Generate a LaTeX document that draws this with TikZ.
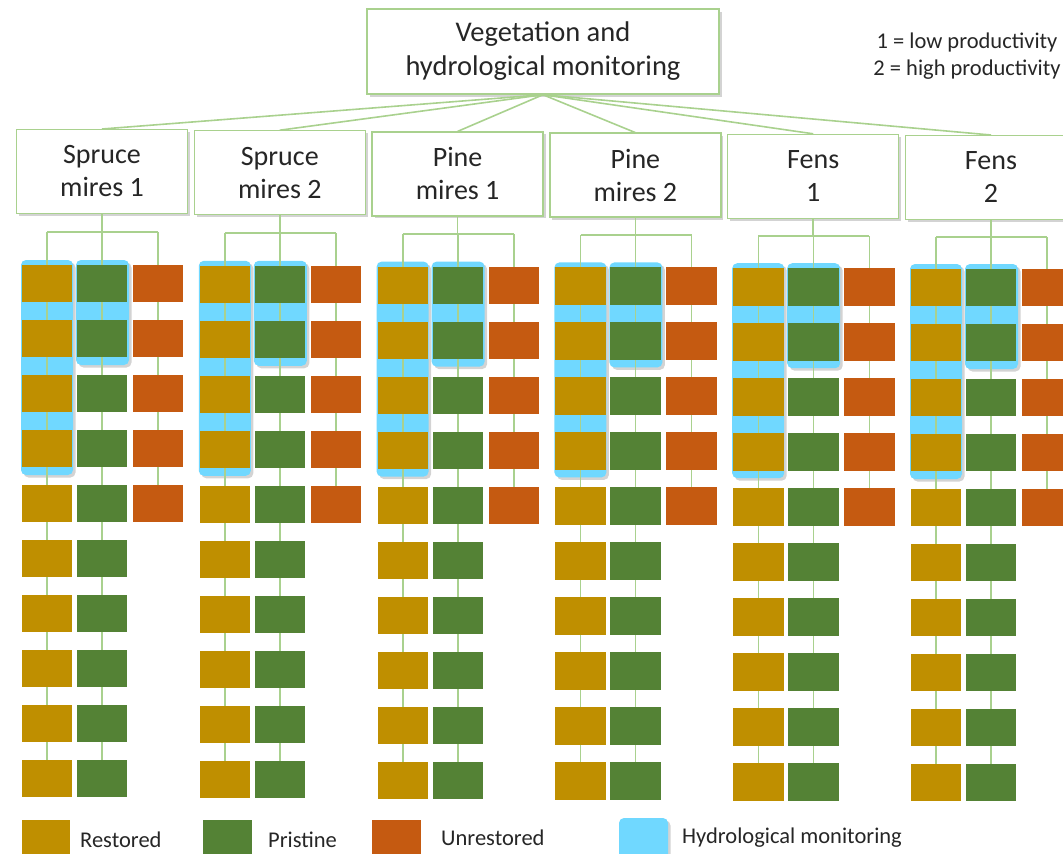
\documentclass[tikz,border=0pt]{standalone}
\usepackage{fontspec}
\setmainfont{Carlito}
\usetikzlibrary{shadows}
\definecolor{lgreen}{RGB}{169,209,142}
\definecolor{gold}{RGB}{191,143,0}
\definecolor{pgreen}{RGB}{84,130,53}
\definecolor{orng}{RGB}{197,90,17}
\definecolor{hblue}{RGB}{112,216,255}
\definecolor{txt}{RGB}{38,38,38}
\begin{document}
\begin{tikzpicture}[x=1pt,y=-1pt,
  shad/.style={drop shadow={shadow xshift=2.5pt, shadow yshift=-2.5pt, opacity=0.35}},
  topbox/.style={draw=lgreen, line width=1.5pt, fill=white, minimum width=352pt, minimum height=85pt, inner sep=0pt, align=center, text=txt, font=\fontsize{28.5}{34}\selectfont, shad},
  catbox/.style={draw=lgreen, line width=1.5pt, fill=white, minimum width=171pt, minimum height=84pt, inner sep=0pt, align=center, text=txt, font=\fontsize{28}{33}\selectfont, shad},
  conn/.style={draw=lgreen, line width=1.6pt},
  plot/.style={minimum width=50pt, minimum height=37pt, inner sep=0pt, anchor=north west},
  rest/.style={plot, fill=gold},
  prist/.style={plot, fill=pgreen},
  unrest/.style={plot, fill=orng},
  hydro/.style={fill=hblue, rounded corners=5pt, shad},
  lgd/.style={text=txt, font=\fontsize{22.5}{24}\selectfont, anchor=west, inner sep=0pt},
  note/.style={text=txt, font=\fontsize{22.5}{27}\selectfont, align=center}
]
\useasboundingbox (0,0) rectangle (1063,854);
\clip (0,0) rectangle (1063,854);

% top box
\node[topbox] (top) at (543,51.5) {Vegetation and\\hydrological monitoring};
\node[note] (key) at (967,56) {1 = low productivity\\2 = high productivity};

% category boxes
\foreach \i/\lab in {0/{Spruce\\mires 1},1/{Spruce\\mires 2},2/{Pine\\mires 1},3/{Pine\\mires 2},4/{Fens\\1},5/{Fens\\2}}{
  \pgfmathsetmacro\cx{102+177.8*\i}
  \pgfmathsetmacro\cy{171+1.2*\i}
  \draw[conn] (top.south) -- (\cx,\cy-42);
  \node[catbox] (cat\i) at (\cx,\cy+0.5) {\lab};
}

\foreach \i in {0,...,5}{
  \pgfmathsetmacro\gx{22+177.8*\i}
  \pgfmathsetmacro\px{\gx+55}
  \pgfmathsetmacro\ux{\gx+111}
  \pgfmathsetmacro\ry{265+0.8*\i}
  \pgfmathsetmacro\hy{232+1*\i}
  % hydrological highlights
  \path[hydro] (\gx-1,\ry-5) rectangle (\gx+51,\ry+3*55+37+8);
  \path[hydro] (\px-1,\ry-5) rectangle (\px+52,\ry+55+37+8);
  % plots
  \foreach \k in {0,...,9}{
    \node[rest] (r\i-\k) at (\gx,\ry+55*\k) {};
    \node[prist] (p\i-\k) at (\px,\ry+55*\k) {};
  }
  \foreach \k in {0,...,4}{
    \node[unrest] (u\i-\k) at (\ux,\ry+55*\k) {};
  }
  % tree connector points
  \coordinate (h\i) at (cat\i.south |- 0,\hy);
  \coordinate (hl\i) at (r\i-0.north |- 0,\hy);
  \coordinate (hr\i) at (u\i-0.north |- 0,\hy);
}
% connectors
\foreach \i in {0,...,5}{
  \draw[conn] (cat\i.south) -- (h\i);
  \draw[conn] (hl\i) -- (hr\i);
  \draw[conn] (hl\i) -- (r\i-9.center);
  \draw[conn] (p\i-0.north |- h\i) -- (p\i-9.center);
  \draw[conn] (hr\i) -- (u\i-4.center);
}
% plots painted again above the connectors
\foreach \i in {0,...,5}{
  \foreach \k in {0,...,9}{
    \fill[gold] (r\i-\k.north west) rectangle (r\i-\k.south east);
    \fill[pgreen] (p\i-\k.north west) rectangle (p\i-\k.south east);
  }
  \foreach \k in {0,...,4}{
    \fill[orng] (u\i-\k.north west) rectangle (u\i-\k.south east);
  }
}

% legend
\node[rest, minimum width=48pt, minimum height=36pt] (lr) at (22,820) {};
\node[lgd] (lrt) at (80,840) {Restored};
\node[prist, minimum width=49pt, minimum height=36pt] (lp) at (203,820) {};
\node[lgd] (lpt) at (268,840) {Pristine};
\node[unrest, minimum width=49pt, minimum height=36pt] (lu) at (372,820) {};
\node[lgd] (lut) at (441,838) {Unrestored};
\path[hydro] (619,818) rectangle (668,860);
\node[lgd] (lht) at (682,838) {Hydrological monitoring};
\end{tikzpicture}
\end{document}
